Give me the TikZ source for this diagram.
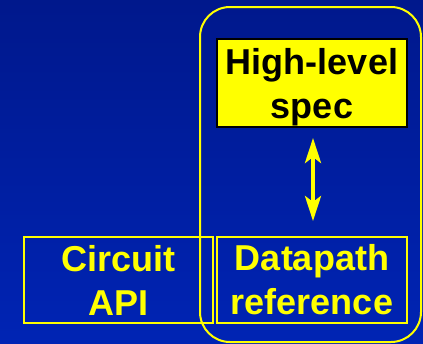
\documentclass[tikz,border=0pt]{standalone}
\usepackage{fontspec}
\setmainfont{Liberation Sans}
\usetikzlibrary{arrows.meta}
\definecolor{bgtop}{RGB}{0,24,140}
\definecolor{bgbot}{RGB}{0,36,180}
\definecolor{hl}{RGB}{255,255,0}
\tikzset{
  label font/.style={font=\fontsize{36}{44}\selectfont\bfseries, align=center, inner sep=0pt},
  outlinebox/.style={label font, draw=hl, line width=2pt, text=hl,
    minimum width=190pt, minimum height=86pt},
  specbox/.style={label font, draw=black, fill=hl, line width=2pt, text=black,
    minimum width=190pt, minimum height=88pt},
  groupbox/.style={draw=hl, line width=2pt, rounded corners=30pt,
    minimum width=221pt, minimum height=335pt, inner sep=0pt},
  dblarrow/.style={draw=hl, line width=4pt,
    {Stealth[length=25pt,width=16pt,inset=6pt]}-{Stealth[length=25pt,width=16pt,inset=6pt]}}
}
\begin{document}
\begin{tikzpicture}[x=1pt,y=-1pt]
  % background
  \shade[top color=bgtop, bottom color=bgbot] (0,0) rectangle (423,343);
  \useasboundingbox (0,0) rectangle (423,343);

  % boxes
  \node[specbox] (spec) at (312,83) {High-level\\\smash{spec}};
  \node[outlinebox, minimum width=189pt] (circuit) at (118.5,280) {Circuit\\API};
  \node[outlinebox] (datapath) at (312,280) {Datapath\\reference};

  % enclosing group
  \node[groupbox] (group) at (310.5,174.5) {};

  % link between spec and reference
  \draw[dblarrow, shorten <=10pt, shorten >=15pt] ([xshift=1pt]spec.south) -- ([xshift=1pt]datapath.north);
\end{tikzpicture}
\end{document}
